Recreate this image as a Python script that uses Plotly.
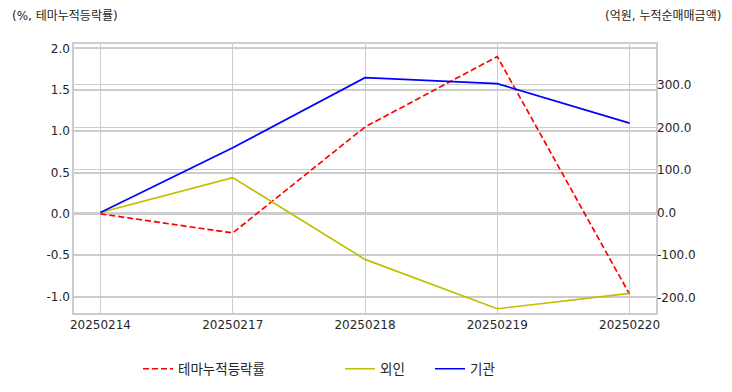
import plotly.graph_objects as go

dates = ["20250214", "20250217", "20250218", "20250219", "20250220"]
theme_rate = [0.0, -0.23, 1.05, 1.90, -0.97]
foreign = [0.0, 82.0, -110.0, -226.0, -190.0]
institution = [0.0, 152.0, 317.0, 303.0, 210.0]

FONT = "DejaVu Sans, Noto Sans CJK KR, sans-serif"
TXT = "#262626"
GRID = "#cccccc"

fig = go.Figure()
fig.add_trace(go.Scatter(x=dates, y=theme_rate, mode="lines", name="테마누적등락률",
                         line=dict(color="#ff0000", width=1.7, dash="6px,3px"),
                         yaxis="y", legend="legend", showlegend=True))
fig.add_trace(go.Scatter(x=dates, y=foreign, mode="lines", name="외인",
                         line=dict(color="#bfbf00", width=1.7),
                         yaxis="y2", legend="legend2", showlegend=True))
fig.add_trace(go.Scatter(x=dates, y=institution, mode="lines", name="기관",
                         line=dict(color="#0000ff", width=1.7),
                         yaxis="y2", legend="legend2", showlegend=True))

# page body has an 8px default margin, so the figure is shifted by (8, 8)
fig.update_layout(
    width=724, height=384,
    showlegend=True,
    margin=dict(l=66, r=76, t=36, b=79, autoexpand=False),
    paper_bgcolor="white", plot_bgcolor="white",
    font=dict(family=FONT, size=12, color=TXT),
    xaxis=dict(type="category", range=[-0.2, 4.2], showgrid=True, gridcolor=GRID, gridwidth=1,
               showline=True, linecolor=GRID, linewidth=1.5, mirror=True, automargin=False,
               ticks="", tickfont=dict(size=12, color=TXT), zeroline=False),
    yaxis=dict(range=[-1.197, 2.052], tickvals=[-1.0, -0.5, 0.0, 0.5, 1.0, 1.5, 2.0],
               ticktext=["-1.0", "-0.5", "0.0", "0.5", "1.0", "1.5", "2.0"],
               showgrid=True, gridcolor=GRID, gridwidth=1.5, zeroline=False, automargin=False,
               showline=True, linecolor=GRID, linewidth=1.5, mirror=True,
               ticks="", tickfont=dict(size=12, color=TXT)),
    yaxis2=dict(range=[-236, 396], overlaying="y", side="right", automargin=False,
                tickvals=[-200, -100, 0, 100, 200, 300],
                ticktext=["-200.0", "-100.0", "0.0", "100.0", "200.0", "300.0"],
                showgrid=True, gridcolor=GRID, gridwidth=1, zeroline=False,
                showline=False, ticks="", tickfont=dict(size=12, color=TXT)),
    legend=dict(orientation="h", x=0.110, xanchor="left", y=-0.208, yanchor="middle",
                bgcolor="rgba(0,0,0,0)", font=dict(size=13.5, color=TXT)),
    legend2=dict(orientation="h", x=0.457, xanchor="left", y=-0.208, yanchor="middle",
                 entrywidth=45, entrywidthmode="pixels",
                 bgcolor="rgba(0,0,0,0)", font=dict(size=13.5, color=TXT)),
    annotations=[
        dict(text="(%, 테마누적등락률)", xref="paper", yref="paper", x=-0.110, y=1.103,
             xanchor="left", yanchor="middle", showarrow=False, font=dict(size=12, color=TXT)),
        dict(text="(억원, 누적순매매금액)", xref="paper", yref="paper", x=1.1145, y=1.103,
             xanchor="right", yanchor="middle", showarrow=False, font=dict(size=12, color=TXT)),
    ],
)

fig.write_html("out.html")
